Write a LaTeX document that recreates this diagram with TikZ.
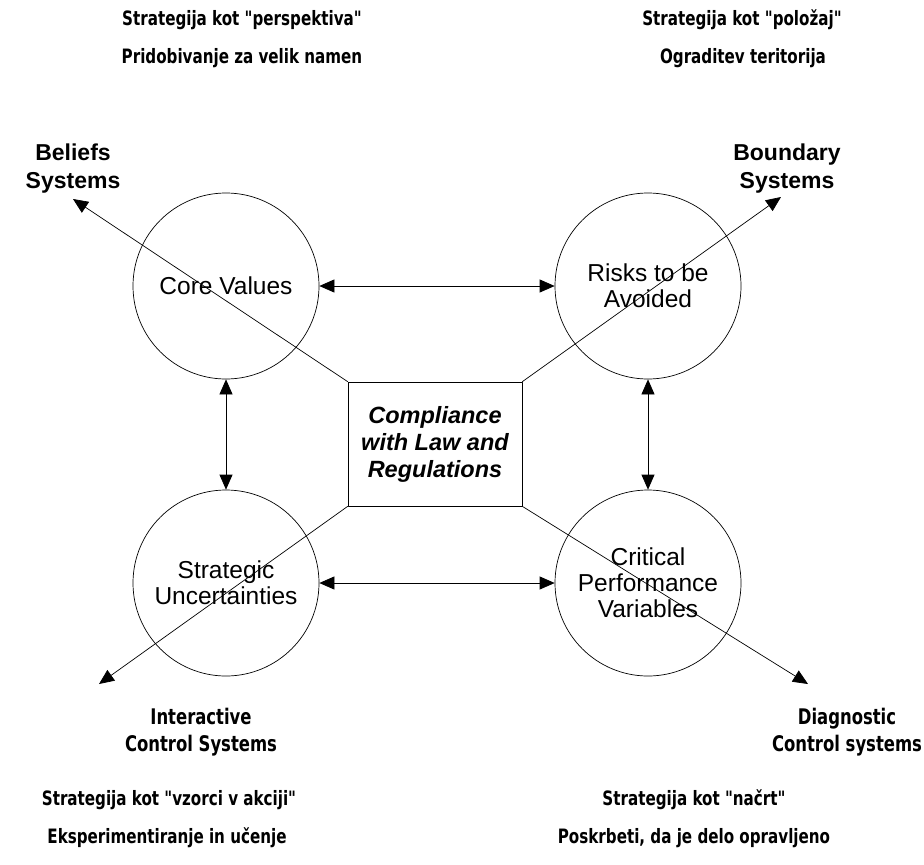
\documentclass[tikz,border=0pt]{standalone}
\usepackage{fontspec}
\setmainfont{Liberation Sans}
\newfontfamily\stratfont[FakeStretch=0.85]{DejaVu Sans Condensed}
\usetikzlibrary{arrows.meta}

\tikzset{
  levercircle/.style={draw, circle, minimum size=186pt, inner sep=0pt, align=center,
    font=\fontsize{24.5}{26}\selectfont},
  levername/.style={align=center, font=\fontsize{23}{28}\selectfont\bfseries},
  controlname/.style={align=center, font=\stratfont\bfseries\fontsize{21.5}{27}\selectfont},
  stratline/.style={font=\stratfont\bfseries\fontsize{19.8}{20}\selectfont},
}

\begin{document}
\begin{tikzpicture}[line cap=round,line join=round,>={Triangle[length=15pt,width=13pt]},x=1pt,y=-1pt,line width=0.7pt]
\useasboundingbox (0,0) rectangle (924,865);
% the four levers
\node[levercircle] (cv) at (226,286) {Core Values};
\node[levercircle] (rb) at (648,286) {Risks to be\\Avoided};
\node[levercircle] (su) at (226,583) {Strategic\\Uncertainties};
\node[levercircle] (cp) at (648,583) {Critical\\Performance\\Variables};
\node[draw, fill=white, minimum width=174pt, minimum height=124pt, align=center,
  font=\fontsize{23.5}{27}\selectfont\bfseries\itshape] (clr) at (435,444)
  {Compliance\\with Law and\\Regulations};
% arrow tips of the diagonals
\coordinate (bstip) at (73,199);
\coordinate (bytip) at (781,197);
\coordinate (ictip) at (99,684);
\coordinate (dctip) at (808,684);
\draw[->] (clr.north west) -- (bstip);
\draw[->] (clr.north east) -- (bytip);
\draw[->] (clr.south west) -- (ictip);
\draw[->] (clr.south east) -- (dctip);
% links between the levers
\draw[<->] (cv) -- (rb);
\draw[<->] (su) -- (cp);
\draw[<->] (cv) -- (su);
\draw[<->] (rb) -- (cp);
% names of the systems
\node[levername] (bsname) at (73,169) {Beliefs\\Systems};
\node[levername] (byname) at (787,169) {Boundary\\Systems};
\node[controlname] (icname) at (201,732) {Interactive\\Control Systems};
\node[controlname] (dcname) at (847,732) {Diagnostic\\Control systems};
% strategies
\node[stratline] (sp1) at (242,20) {Strategija kot "perspektiva"};
\node[stratline] (sp2) at (242,58) {Pridobivanje za velik namen};
\node[stratline] (sl1) at (742,20) {Strategija kot "položaj"};
\node[stratline] (sl2) at (743,58) {Ograditev teritorija};
\node[stratline] (sv1) at (169,800) {Strategija kot "vzorci v akciji"};
\node[stratline] (sv2) at (167,838) {Eksperimentiranje in učenje};
\node[stratline] (sn1) at (694,800) {Strategija kot "načrt"};
\node[stratline] (sn2) at (694,838) {Poskrbeti, da je delo opravljeno};
\end{tikzpicture}
\end{document}
